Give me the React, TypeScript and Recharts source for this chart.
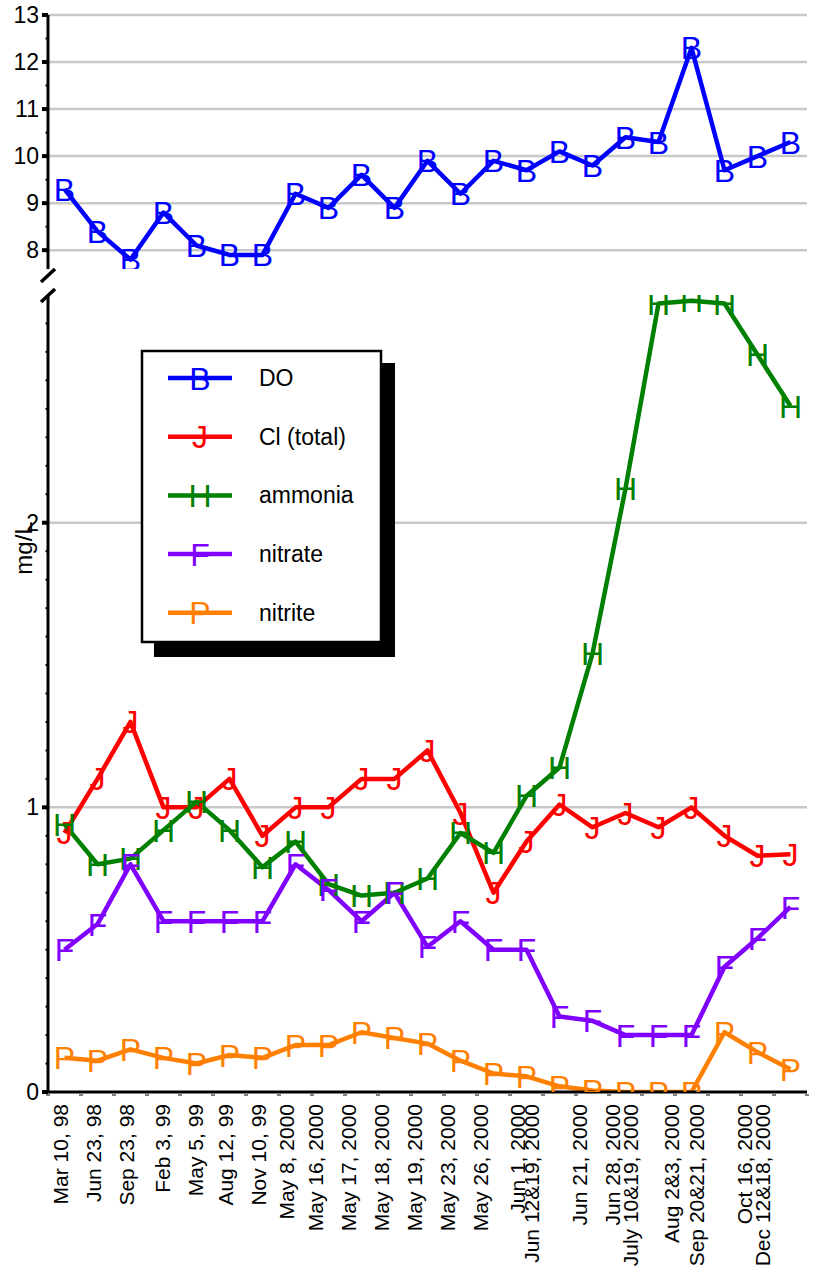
import React from 'react';
import { LineChart, Line, XAxis, YAxis, CartesianGrid, Legend } from 'recharts';

const dates = [
  'Mar 10, 98', 'Jun 23, 98', 'Sep 23, 98', 'Feb 3, 99', 'May 5, 99', 'Aug 12, 99', 'Nov 10, 99',
  'May 8, 2000', 'May 16, 2000', 'May 17, 2000', 'May 18, 2000', 'May 19, 2000', 'May 23, 2000',
  'May 26, 2000', 'Jun 1, 2000', 'Jun 12&19, 2000', 'Jun 21, 2000', 'Jun 28, 2000',
  'July 10&19, 2000', 'Aug 2&3, 2000', 'Sep 20&21, 2000', 'Oct 16, 2000', 'Dec 12&18, 2000',
];

const doValues = [9.3, 8.4, 7.8, 8.8, 8.1, 7.9, 7.9, 9.2, 8.9, 9.6, 8.9, 9.9, 9.2, 9.9, 9.7, 10.1, 9.8, 10.4, 10.3, 12.3, 9.7, 10.0, 10.3];
const clValues = [0.91, 1.1, 1.3, 1.0, 1.0, 1.1, 0.9, 1.0, 1.0, 1.1, 1.1, 1.2, 0.98, 0.7, 0.88, 1.01, 0.93, 0.98, 0.93, 1.0, 0.9, 0.83, 0.835];
const ammoniaValues = [0.94, 0.8, 0.82, 0.92, 1.02, 0.92, 0.79, 0.88, 0.73, 0.69, 0.7, 0.75, 0.91, 0.84, 1.04, 1.14, 1.54, 2.12, 2.77, 2.78, 2.77, 2.59, 2.41];
const nitrateValues = [0.5, 0.59, 0.8, 0.6, 0.6, 0.6, 0.6, 0.8, 0.71, 0.6, 0.7, 0.51, 0.6, 0.5, 0.5, 0.265, 0.25, 0.2, 0.2, 0.2, 0.44, 0.54, 0.65];
const nitriteValues = [0.12, 0.11, 0.15, 0.12, 0.1, 0.13, 0.12, 0.165, 0.165, 0.21, 0.19, 0.17, 0.11, 0.065, 0.055, 0.02, 0.005, 0, 0, 0, 0.21, 0.14, 0.08];

const topTicks = [8, 8.5, 9, 9.5, 10, 10.5, 11, 11.5, 12, 12.5, 13];
const topMajor = [8, 9, 10, 11, 12, 13];
const bottomTicks = [0, 0.1, 0.2, 0.3, 0.4, 0.5, 0.6, 0.7, 0.8, 0.9, 1, 1.1, 1.2, 1.3, 1.4, 1.5, 1.6, 1.7, 1.8, 1.9, 2, 2.1, 2.2, 2.3, 2.4, 2.5, 2.6, 2.7];
const bottomMajor = [0, 1, 2];

const SERIES = [
  { key: 'DO', name: 'DO', color: '#0000FF', marker: 'B' },
  { key: 'cl', name: 'Cl (total)', color: '#FF0000', marker: 'J' },
  { key: 'ammonia', name: 'ammonia', color: '#008000', marker: 'H' },
  { key: 'nitrate', name: 'nitrate', color: '#8000FF', marker: 'F' },
  { key: 'nitrite', name: 'nitrite', color: '#FF8000', marker: 'P' },
];

const topData = dates.map((d, i) => ({ date: d, DO: doValues[i] }));
const bottomData = dates.map((d, i) => ({
  date: d,
  cl: clValues[i],
  ammonia: ammoniaValues[i],
  nitrate: nitrateValues[i],
  nitrite: nitriteValues[i],
}));

const FONT = '"Liberation Sans", Arial, Helvetica, sans-serif';
const MARKER_SIZE = 32;
const LINE_W = 4.5;

const makeDot = (letter: string, color: string) => (props: any) => {
  const { cx, cy, index } = props;
  if (cx == null || cy == null) return <g key={`${letter}-e-${index}`} />;
  return (
    <text
      key={`${letter}-${index}`}
      x={cx}
      y={cy}
      dy="0.36em"
      textAnchor="middle"
      fontSize={MARKER_SIZE}
      fontFamily={FONT}
      fill={color}
    >
      {letter}
    </text>
  );
};

const makeYTick = (major: number[]) => (props: any) => {
  const { x, y, payload } = props;
  const isMajor = major.includes(payload.value);
  return (
    <g>
      <line x1={x - (isMajor ? 6 : 2.5)} x2={x} y1={y} y2={y} stroke="#000" strokeWidth={isMajor ? 4 : 2} />
      {isMajor && (
        <text x={x - 9} y={y} dy="0.35em" textAnchor="end" fontSize={23} fontFamily={FONT} fill="#000">
          {payload.value}
        </text>
      )}
    </g>
  );
};

const XTick = (props: any) => {
  const { x, y, payload, index, visibleTicksCount, width } = props;
  const half = width / visibleTicksCount / 2;
  const label = String(payload.value);
  const n = label.length;
  const shift = n >= 15 ? -28 : n >= 13 ? -20 : n >= 12 ? -13 : n >= 11 ? -9 : n >= 10 ? -4 : -1;
  const tx = x + shift;
  const ty = y + 12;
  return (
    <g>
      <line x1={x - half - 2} x2={x - half + 2} y1={y + 3} y2={y + 3} stroke="#555" strokeWidth={1.5} />
      {index === visibleTicksCount - 1 && (
        <line x1={x + half - 2} x2={x + half + 2} y1={y + 3} y2={y + 3} stroke="#555" strokeWidth={1.5} />
      )}
      <text
        x={tx}
        y={ty}
        transform={`rotate(-90, ${tx}, ${ty})`}
        textAnchor="end"
        dy="0.35em"
        fontSize={21}
        fontFamily={FONT}
        fill="#000"
      >
        {label}
      </text>
    </g>
  );
};

const LegendBox = () => {
  const rowGap = 58.7;
  return (
    <svg width={260} height={312} style={{ overflow: 'visible' }}>
      <rect x={13} y={13} width={241} height={294} fill="#000" />
      <rect x={1} y={1} width={239} height={291} fill="#fff" stroke="#000" strokeWidth={2.5} />
      {SERIES.map((s, i) => {
        const cy = 28 + i * rowGap;
        return (
          <g key={s.key}>
            <line x1={27} x2={91} y1={cy} y2={cy} stroke={s.color} strokeWidth={LINE_W} />
            <text x={59} y={cy} dy="0.36em" textAnchor="middle" fontSize={MARKER_SIZE} fontFamily={FONT} fill={s.color}>
              {s.marker}
            </text>
            <text x={118} y={cy} dy="0.35em" fontSize={23} fontFamily={FONT} fill="#000">
              {s.name}
            </text>
          </g>
        );
      })}
    </svg>
  );
};

export default function App() {
  const doS = SERIES[0];
  const rest = SERIES.slice(1);
  return (
    <div style={{ position: 'absolute', left: 0, top: 0, width: 817, height: 1273, background: '#fff', fontFamily: FONT }}>
      <div style={{ position: 'absolute', left: 0, top: 0 }}>
        <LineChart width={817} height={290} data={topData} margin={{ top: 15, right: 10, bottom: 21, left: 0 }}>
          <CartesianGrid vertical={false} horizontalValues={topMajor} stroke="#c8c8c8" strokeWidth={2.5} />
          <XAxis dataKey="date" hide scale="band" />
          <YAxis
            domain={[7.6, 13]}
            type="number"
            ticks={topTicks}
            interval={0}
            width={48}
            tickSize={0}
            tickMargin={0}
            tickLine={false}
            axisLine={{ stroke: '#000', strokeWidth: 3 }}
            tick={makeYTick(topMajor)}
            allowDataOverflow
          />
          <YAxis
            yAxisId="r"
            orientation="right"
            type="number"
            domain={[0, 1]}
            width={0}
            tick={false}
            tickLine={false}
            axisLine={{ stroke: '#000', strokeWidth: 2.5 }}
          />
          <Line
            dataKey={doS.key}
            name={doS.name}
            stroke={doS.color}
            strokeWidth={LINE_W}
            strokeLinejoin="round"
            dot={makeDot(doS.marker, doS.color)}
            activeDot={false}
            isAnimationActive={false}
          />
        </LineChart>
      </div>
      <div style={{ position: 'absolute', left: 0, top: 280 }}>
        <LineChart width={817} height={993} data={bottomData} margin={{ top: 15, right: 10, bottom: 0, left: 0 }}>
          <CartesianGrid vertical={false} horizontalValues={[1, 2]} stroke="#c8c8c8" strokeWidth={2.5} />
          <XAxis
            dataKey="date"
            scale="band"
            height={181}
            interval={0}
            tickSize={0}
            tickMargin={0}
            tickLine={false}
            axisLine={{ stroke: '#000', strokeWidth: 3 }}
            tick={<XTick />}
          />
          <YAxis
            domain={[0, 2.8]}
            type="number"
            ticks={bottomTicks}
            interval={0}
            width={48}
            tickSize={0}
            tickMargin={0}
            tickLine={false}
            axisLine={{ stroke: '#000', strokeWidth: 3 }}
            tick={makeYTick(bottomMajor)}
            allowDataOverflow
          />
          <YAxis
            yAxisId="r"
            orientation="right"
            type="number"
            domain={[0, 1]}
            width={0}
            tick={false}
            tickLine={false}
            axisLine={{ stroke: '#000', strokeWidth: 2.5 }}
          />
          <Legend
            layout="vertical"
            align="center"
            verticalAlign="middle"
            content={() => <LegendBox />}
            wrapperStyle={{ left: 141, top: 70, width: 260, height: 312 }}
          />
          {rest.map((s) => (
            <Line
              key={s.key}
              dataKey={s.key}
              name={s.name}
              stroke={s.color}
              strokeWidth={LINE_W}
              strokeLinejoin="round"
              dot={makeDot(s.marker, s.color)}
              activeDot={false}
              isAnimationActive={false}
            />
          ))}
        </LineChart>
      </div>
      <svg
        width={817}
        height={1273}
        style={{ position: 'absolute', left: 0, top: 0, pointerEvents: 'none' }}
      >
        <line x1={41} y1={282} x2={55} y2={269} stroke="#000" strokeWidth={3.5} />
        <line x1={41} y1={302} x2={55} y2={289} stroke="#000" strokeWidth={3.5} />
        <text
          x={32}
          y={548}
          transform="rotate(-90, 32, 548)"
          textAnchor="middle"
          fontSize={24}
          fontFamily={FONT}
          fill="#000"
        >
          mg/L
        </text>
      </svg>
    </div>
  );
}
